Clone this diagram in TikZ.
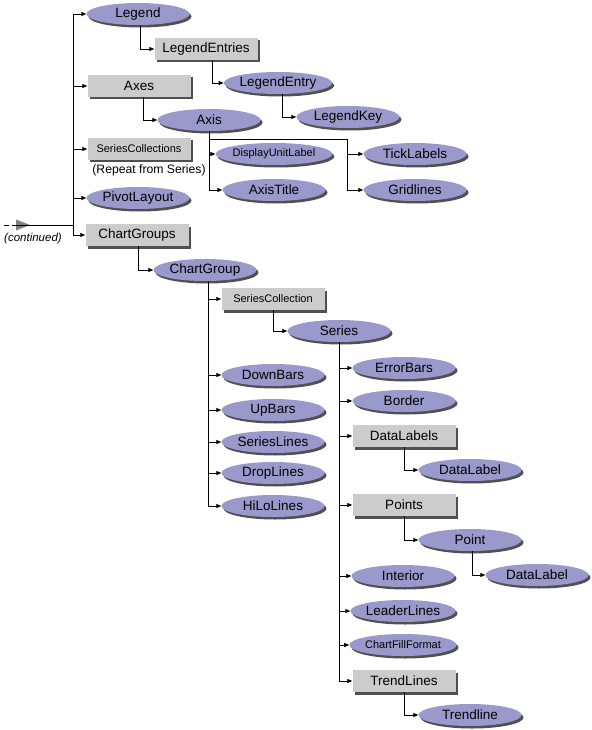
\documentclass[tikz,border=0pt]{standalone}
\usepackage{fontspec}
\setmainfont{Liberation Sans}
\usetikzlibrary{shapes.geometric,shadows,arrows.meta}
\definecolor{lav}{RGB}{153,153,204}
\definecolor{boxg}{RGB}{204,204,204}
\definecolor{shad}{RGB}{80,80,80}
\tikzset{
  shd/.style={drop shadow={shadow xshift=2pt,shadow yshift=-2.5pt,fill=shad,opacity=1}},
  obj/.style={ellipse,fill=lav,minimum width=103pt,minimum height=22pt,inner sep=0pt,shd,font=\fontsize{13.5}{15}\selectfont},
  coll/.style={rectangle,fill=boxg,minimum width=103pt,minimum height=22pt,inner sep=0pt,shd,font=\fontsize{13.5}{15}\selectfont},
  sm/.style={font=\fontsize{11}{13}\selectfont},
  conn/.style={draw=black,line width=0.8pt,-{Triangle[length=5pt,width=4pt]}},
  line/.style={draw=black,line width=0.8pt}
}
\begin{document}
\begin{tikzpicture}[x=1pt,y=-1pt]
\useasboundingbox (0,0) rectangle (591,730);
% top-level
\node[obj]  (legend)   at (138,14)  {Legend};
\node[coll] (legendentries) at (206,49) {LegendEntries};
\node[obj]  (legendentry) at (278,83) {LegendEntry};
\node[obj]  (legendkey) at (348,117) {LegendKey};
\node[coll] (axes) at (139,86) {Axes};
\node[obj]  (axis) at (209,120) {Axis};
\node[obj,sm] (dul) at (274,154) {DisplayUnitLabel};
\node[obj]  (axistitle) at (274,190) {AxisTitle};
\node[obj]  (ticklabels) at (415,154) {TickLabels};
\node[obj]  (gridlines) at (415,190) {Gridlines};
\node[coll,sm] (seriescollections) at (139,149) {SeriesCollections};
\node[font=\fontsize{12.2}{14}\selectfont] (repeat) at (149,170) {(Repeat from Series)};
\node[obj]  (pivot) at (138,198) {PivotLayout};
\node[coll] (chartgroups) at (137,235) {ChartGroups};
\node[obj]  (chartgroup) at (205,270) {ChartGroup};
\node[coll,sm] (seriescollection) at (273,299) {SeriesCollection};
\node[obj]  (series) at (339,331) {Series};
\node[obj]  (downbars) at (273,375) {DownBars};
\node[obj]  (upbars) at (273,410) {UpBars};
\node[obj]  (serieslines) at (273,442) {SeriesLines};
\node[obj]  (droplines) at (273,473) {DropLines};
\node[obj]  (hilolines) at (273,506) {HiLoLines};
\node[obj]  (errorbars) at (404,368) {ErrorBars};
\node[obj]  (border) at (404,401) {Border};
\node[coll] (datalabels) at (404,436) {DataLabels};
\node[obj]  (datalabel1) at (470,470) {DataLabel};
\node[coll] (points) at (404,505) {Points};
\node[obj]  (point) at (470,540) {Point};
\node[obj]  (datalabel2) at (537,575) {DataLabel};
\node[obj]  (interior) at (403,576) {Interior};
\node[obj]  (leaderlines) at (403,611) {LeaderLines};
\node[obj,sm] (chartfill) at (403,645) {ChartFillFormat};
\node[coll] (trendlines) at (404,681) {TrendLines};
\node[obj]  (trendline) at (470,715) {Trendline};
% input
\coordinate (cont) at (4,225);
\coordinate (tri) at (16,225);
\coordinate (trunk) at (73,225);
\draw[line,dash pattern=on 5pt off 3pt] (cont) -- (tri);
\fill[gray] (16,219.5) -- (30,225) -- (16,230.5) -- cycle;
\draw[line] (tri) -- (trunk);
\node[font=\itshape\fontsize{11.5}{13}\selectfont] (contlabel) at (33,239) {(continued)};
\draw[line] (trunk |- legend) -- (trunk |- chartgroups);
\foreach \n in {legend,axes,seriescollections,pivot,chartgroups}
  \draw[conn] (trunk |- \n) -- (\n.west);
% legend branch
\draw[conn] ([xshift=2pt]legend.south) |- (legendentries.west);
\draw[conn] ([xshift=6pt]legendentries.south) |- (legendentry.west);
\draw[conn] ([xshift=4pt]legendentry.south) |- (legendkey.west);
% axes
\draw[conn] ([xshift=4pt]axes.south) |- (axis.west);
\coordinate (axj) at (347,139);
\draw[conn] (axis.south) |- (dul.west);
\draw[conn] (axis.south) |- (axistitle.west);
\draw[line] (axis.south) |- (axj);
\draw[conn] (axj) |- (ticklabels.west);
\draw[conn] (axj) |- (gridlines.west);
% chart groups
\draw[conn] ([xshift=1pt]chartgroups.south) |- (chartgroup.west);
\foreach \n in {seriescollection,downbars,upbars,serieslines,droplines,hilolines}
  \draw[conn] ([xshift=3pt]chartgroup.south) |- (\n.west);
\draw[conn] (seriescollection.south) |- (series.west);
\foreach \n in {errorbars,border,datalabels,points,interior,leaderlines,chartfill,trendlines}
  \draw[conn] (series.south) |- (\n.west);
\draw[conn] (datalabels.south) |- (datalabel1.west);
\draw[conn] (points.south) |- (point.west);
\draw[conn] ([xshift=2pt]point.south) |- (datalabel2.west);
\draw[conn] (trendlines.south) |- (trendline.west);
\end{tikzpicture}
\end{document}
